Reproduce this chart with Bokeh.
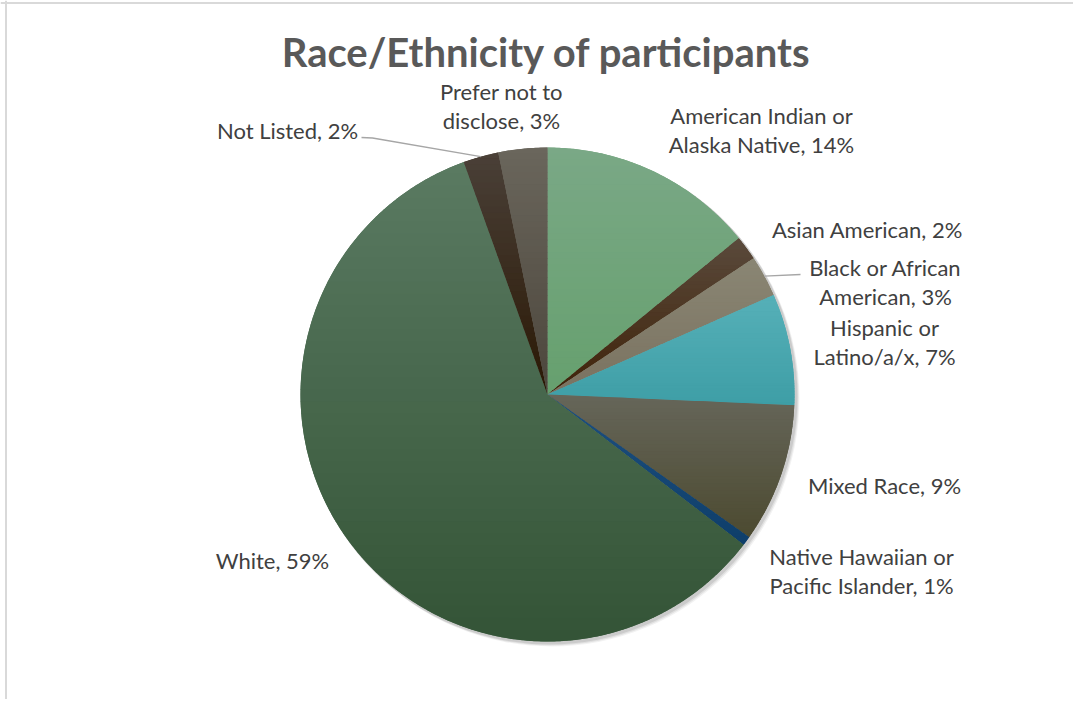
import math
from bokeh.plotting import figure
from bokeh.models import Range1d, Span
from bokeh.core.properties import value
from bokeh.embed import file_html
from bokeh.resources import INLINE

# ---- data ----
categories = ["American Indian or Alaska Native", "Asian American", "Black or African American",
              "Hispanic or Latino/a/x", "Mixed Race", "Native Hawaiian or Pacific Islander",
              "White", "Not Listed", "Prefer not to disclose"]
shares = [14.1, 1.6, 2.7, 7.3, 9.1, 0.6, 59.1, 2.3, 3.2]
label_lines = [["American Indian or", "Alaska Native, 14%"],
               ["Asian American, 2%"],
               ["Black or African", "American, 3%"],
               ["Hispanic or", "Latino/a/x, 7%"],
               ["Mixed Race, 9%"],
               ["Native Hawaiian or", "Pacific Islander, 1%"],
               ["White, 59%"],
               ["Not Listed, 2%"],
               ["Prefer not to", "disclose, 3%"]]
title_text = "Race/Ethnicity of participants"

# ---- style / layout ----
colors = ["#70a47a", "#4a3520", "#86806c", "#47a6ad", "#5a5846", "#16457a",
          "#46684c", "#3a2c1e", "#5e5850"]
top_colors = ["#7aa886", "#5a4a3c", "#8a8674", "#56b0b8", "#66665a", "#1e5080",
              "#5a7a62", "#4a4038", "#6a665c"]
bottom_colors = ["#66a06e", "#3f2208", "#7a7260", "#3e9ea6", "#4c4a30", "#0e3e6a",
                 "#345436", "#2a1804", "#4c463c"]
W, H = 1073, 699
def Y(py):  # screen pixel y -> data y
    return H - py
def X(px):
    return px
cx, cy, R = X(547), Y(394), 247
label_pos = [(761, 129.5), (867, 229), (885, 281.5), (884, 341), (884, 485),
             (861, 570), (272, 560), (287, 130), (501, 105.5)]
line_gap = 29
leaders = {7: [(361, 137), (372, 137.5)], 2: [(800, 274)]}

p = figure(width=W, height=H, x_range=Range1d(0, W), y_range=Range1d(0, H),
           output_backend="svg", toolbar_location=None, x_axis_location=None,
           y_axis_location=None, min_border=0, outline_line_color=None)
p.grid.visible = False
p.background_fill_color = "white"
p.border_fill_color = "white"

# border of the chart area (left and top)
p.add_layout(Span(location=X(5.5), dimension="height", line_color="#d9d9d9", line_width=2))
p.add_layout(Span(location=Y(2.5), dimension="width", line_color="#d9d9d9", line_width=2))

# soft shadow
for off, a in [(4, 0.05), (3, 0.07), (2, 0.09)]:
    p.circle(x=[cx + off], y=[cy - off], radius=R + 1, fill_color="#000000",
             fill_alpha=a, line_color=None)

total = sum(shares)
starts, ends, mids = [], [], []
cum = 0.0
for s in shares:
    a0 = math.pi / 2 - 2 * math.pi * cum / total
    cum += s
    a1 = math.pi / 2 - 2 * math.pi * cum / total
    starts.append(a0)
    ends.append(a1)
    mids.append((a0 + a1) / 2)

# base slices
p.wedge(x=[cx] * len(shares), y=[cy] * len(shares), radius=R, start_angle=starts,
        end_angle=ends, direction="clock", fill_color=colors, line_color=None)

# vertical gradient shading of each slice (bands clipped to the slice)
def hex2rgb(h):
    return tuple(int(h[i:i + 2], 16) for i in (1, 3, 5))
def mix(c0, c1, t):
    a, b = hex2rgb(c0), hex2rgb(c1)
    return "#%02x%02x%02x" % tuple(int(round(a[j] + (b[j] - a[j]) * t)) for j in range(3))
def clip(poly, yv, keep_above):
    out = []
    n = len(poly)
    for j in range(n):
        P, Q = poly[j], poly[(j + 1) % n]
        pin = P[1] >= yv if keep_above else P[1] <= yv
        qin = Q[1] >= yv if keep_above else Q[1] <= yv
        if pin:
            out.append(P)
        if pin != qin:
            t = (yv - P[1]) / (Q[1] - P[1])
            out.append((P[0] + t * (Q[0] - P[0]), yv))
    return out

bx, by, bc = [], [], []
NB = 40
for i in range(len(shares)):
    a0, a1 = starts[i], ends[i]
    steps = max(4, int(abs(a0 - a1) / math.radians(0.4)))
    poly = [(cx, cy)] + [(cx + R * math.cos(a0 + (a1 - a0) * k / steps),
                          cy + R * math.sin(a0 + (a1 - a0) * k / steps)) for k in range(steps + 1)]
    ymax = max(q[1] for q in poly)
    ymin = min(q[1] for q in poly)
    hgt = ymax - ymin
    for k in range(NB):
        hi = ymax - hgt * k / NB + 0.3
        lo = ymax - hgt * (k + 1) / NB - 0.3
        part = clip(clip(poly, lo, True), hi, False)
        if len(part) < 3:
            continue
        bx.append([q[0] for q in part])
        by.append([q[1] for q in part])
        bc.append(mix(top_colors[i], bottom_colors[i], (k + 0.5) / NB))
p.patches(xs=bx, ys=by, fill_color=bc, line_color=None)

# leader lines
for i, pts in leaders.items():
    ex = cx + R * math.cos(mids[i])
    ey = cy + R * math.sin(mids[i])
    xs = [X(px) for px, py in pts] + [ex]
    ys = [Y(py) for px, py in pts] + [ey]
    p.line(xs, ys, line_color="#a6a6a6", line_width=1.3)

# labels
tx, ty, tt = [], [], []
for lines, (lx, ly) in zip(label_lines, label_pos):
    n = len(lines)
    for k, t in enumerate(lines):
        tx.append(X(lx))
        ty.append(Y(ly + (k - (n - 1) / 2) * line_gap))
        tt.append(t)
p.text(x=tx, y=ty, text=tt, text_align="center", text_baseline="middle",
       text_font=value("Lato"), text_font_size=value("22px"), text_color="#404040")

p.text(x=[X(546)], y=[Y(51)], text=[title_text], text_align="center", text_baseline="middle",
       text_font=value("Lato"), text_font_size=value("40px"), text_font_style="bold",
       text_color="#595959")

open("out.html", "w").write(file_html(p, INLINE))
